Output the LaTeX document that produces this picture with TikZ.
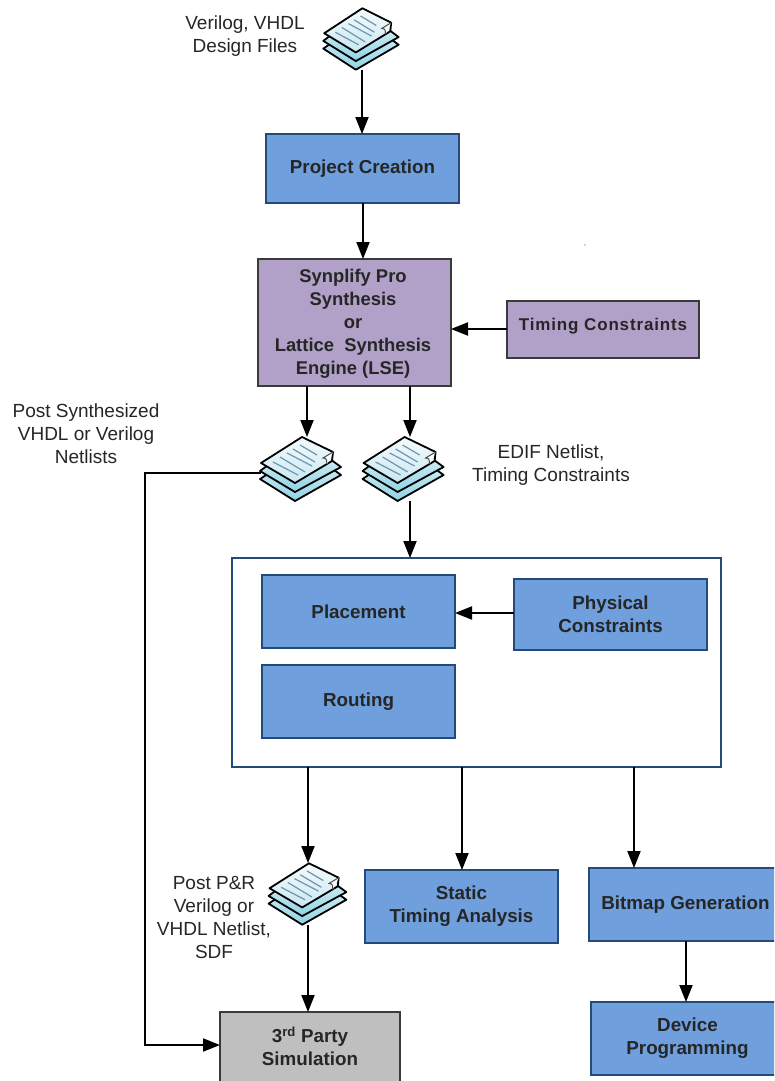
\documentclass[tikz,border=0pt]{standalone}
\usepackage{fontspec}
\setmainfont{Liberation Sans}
\usetikzlibrary{arrows.meta,calc}
\definecolor{boxblue}{HTML}{6F9FDC}
\definecolor{boxpurple}{HTML}{B1A0C7}
\definecolor{boxgrey}{HTML}{BFBFBF}
\definecolor{edgeblue}{HTML}{234A78}
\definecolor{edgegrey}{HTML}{3A3A3A}
\definecolor{txt}{HTML}{262626}
\definecolor{sheetA}{HTML}{F4FBFD}
\definecolor{sheetB}{HTML}{C9E8F1}
\definecolor{layerA}{HTML}{CDEBF3}
\definecolor{layerB}{HTML}{8FD3E6}
\definecolor{inkline}{HTML}{6F93B0}
\tikzset{
  x=1pt,y=-1pt,
  flowbox/.style={draw=edgeblue,line width=1.8pt,inner sep=0pt,outer sep=0pt,align=center,text=txt,
    font=\fontsize{18.8}{23}\selectfont\bfseries},
  bluebox/.style={flowbox,fill=boxblue},
  purplebox/.style={flowbox,draw=edgegrey,fill=boxpurple},
  greybox/.style={flowbox,draw=edgegrey,fill=boxgrey},
  framebox/.style={draw=edgeblue,line width=1.8pt,fill=white,inner sep=0pt,outer sep=0pt},
  caption/.style={align=center,text=txt,inner sep=0pt,font=\fontsize{19}{23}\selectfont},
  boldcaption/.style={align=center,text=txt,inner sep=0pt,font=\fontsize{18.8}{23}\selectfont\bfseries},
  docnode/.style={inner sep=0pt,outer sep=0pt,minimum width=80pt,minimum height=64pt},
  arrow/.style={draw=black,line width=1.9pt,-{Triangle[length=17pt,width=13pt]}},
  docicon/.pic={
    \begin{scope}[line width=1.8pt,draw=black,line join=round]
      \path[draw,top color=layerA,bottom color=layerB]
        (-40,10) -- (-34,6) -- (30,-2) -- (41,6) -- (-5,32) -- cycle;
      \path[draw,top color=layerA,bottom color=layerB]
        (-40,2) -- (-32,-4) -- (30,-10) -- (41,-2) -- (-5,23) -- cycle;
      \path[draw,top color=sheetA,bottom color=sheetB]
        (2,-32) -- (33,-17) -- (32,-8) -- (-5,14) -- (-39,-6) -- cycle;
    \end{scope}
    \draw[line width=1pt,draw=black!70,fill=white] (33,-17) -- (23,-11) .. controls (27,-11) and (27,-8) .. (27,-5);
    \draw[line width=1.2pt,draw=inkline]
      (0,-24) -- (17,-14) (-7,-20) -- (15,-7) (-13,-16) -- (12,-3) (-20,-12) -- (5,3) (-27,-7) -- (-2,6);
  },
}
\begin{document}
\begin{tikzpicture}
\useasboundingbox (0,0) rectangle (774,1081);
\clip (0,0) rectangle (774,1081);

\node[bluebox,minimum width=193pt,minimum height=69pt] (project) at (362.5,168.5) {Project Creation};
\node[purplebox,minimum width=193pt,minimum height=127pt] (synth) at (354.5,322.5) {};
\node[boldcaption,font=\fontsize{18.4}{23}\selectfont\bfseries] (synthtext) at (353,323.5)
  {Synplify Pro\\Synthesis\\or\\Lattice\ \ Synthesis\\Engine (LSE)};
\node[purplebox,minimum width=192pt,minimum height=57pt] (timing) at (603,329.5) {};
\node[font=\fontsize{17}{23}\selectfont\bfseries\addfontfeatures{LetterSpace=5},text=txt,inner sep=0pt] (timingtext) at (603,326.5) {Timing Constraints};

\node[framebox,minimum width=489pt,minimum height=209pt] (pnr) at (476.5,662.5) {};
\node[bluebox,minimum width=193pt,minimum height=73pt] (place) at (358.5,611.5) {Placement};
\node[bluebox,minimum width=193pt,minimum height=71pt] (phys) at (610.5,614.5) {Physical\\Constraints};
\node[bluebox,minimum width=193pt,minimum height=73pt] (route) at (358.5,701.5) {Routing};

\node[bluebox,minimum width=193pt,minimum height=73pt] (sta) at (461.5,906.5) {Static\\Timing Analysis};
\node[bluebox,minimum width=193pt,minimum height=73pt] (bitmap) at (685.5,904.5) {Bitmap Generation};
\node[bluebox,minimum width=193pt,minimum height=73pt] (device) at (687.5,1038.5) {Device\\Programming};
\node[greybox,minimum width=180pt,minimum height=80pt] (sim) at (310,1052) {};
\node[boldcaption] (simtext) at (310,1046.5) {3\textsuperscript{rd} Party\\Simulation};

\node[docnode,minimum width=74pt,minimum height=62pt] (doc1) at (362,39) {};
\pic[xscale=.93,yscale=.96] at (360.5,39) {docicon};
\node[docnode] (doc2) at (307,469) {};
\pic at (300,469) {docicon};
\node[docnode] (doc3) at (410,469) {};
\pic at (402.6,469) {docicon};
\node[docnode,minimum width=78pt,minimum height=62pt] (doc4) at (308,894) {};
\pic[scale=.96] at (307,894) {docicon};

\node[caption] (t1) at (245,36) {Verilog, VHDL\\Design Files};
\node[caption] (t2) at (86,434) {Post Synthesized\\VHDL or Verilog\\Netlists};
\node[caption] (t3) at (551,465.5) {EDIF Netlist,\\Timing Constraints};
\node[caption] (t4) at (214,917.5) {Post P\&R\\Verilog or\\VHDL Netlist,\\SDF};

\coordinate (bend1) at (145,473);
\coordinate (bend2) at (145,1045);
\coordinate (doc2left) at (261,473);
\coordinate (stax) at (462,0);

\draw[arrow] (doc1.south) -- (project.north -| doc1);
\draw[arrow] (project.south -| 363,0) -- (synth.north -| 363,0);
\draw[arrow] (timing.west |- 0,329) -- (synth.east |- 0,329);
\draw[arrow] (synth.south -| doc2) -- (doc2.north);
\draw[arrow] (synth.south -| doc3) -- (doc3.north);
\draw[arrow] (doc3.south) -- (pnr.north -| doc3);
\draw[arrow] (phys.west |- 0,613) -- (place.east |- 0,613);
\draw[arrow] (pnr.south -| doc4) -- (doc4.north);
\draw[arrow] (doc4.south) -- (sim.north -| doc4);
\draw[arrow] (pnr.south -| stax) -- (sta.north -| stax);
\draw[arrow] (pnr.south -| 634,0) -- (bitmap.north -| 634,0);
\draw[arrow] (bitmap.south -| 686,0) -- (device.north -| 686,0);
\draw[arrow] (doc2left) -- (bend1) -- (bend2) -- (sim.west |- bend2);

\fill[black!70] (585,245) circle (.6pt);
\end{tikzpicture}
\end{document}
